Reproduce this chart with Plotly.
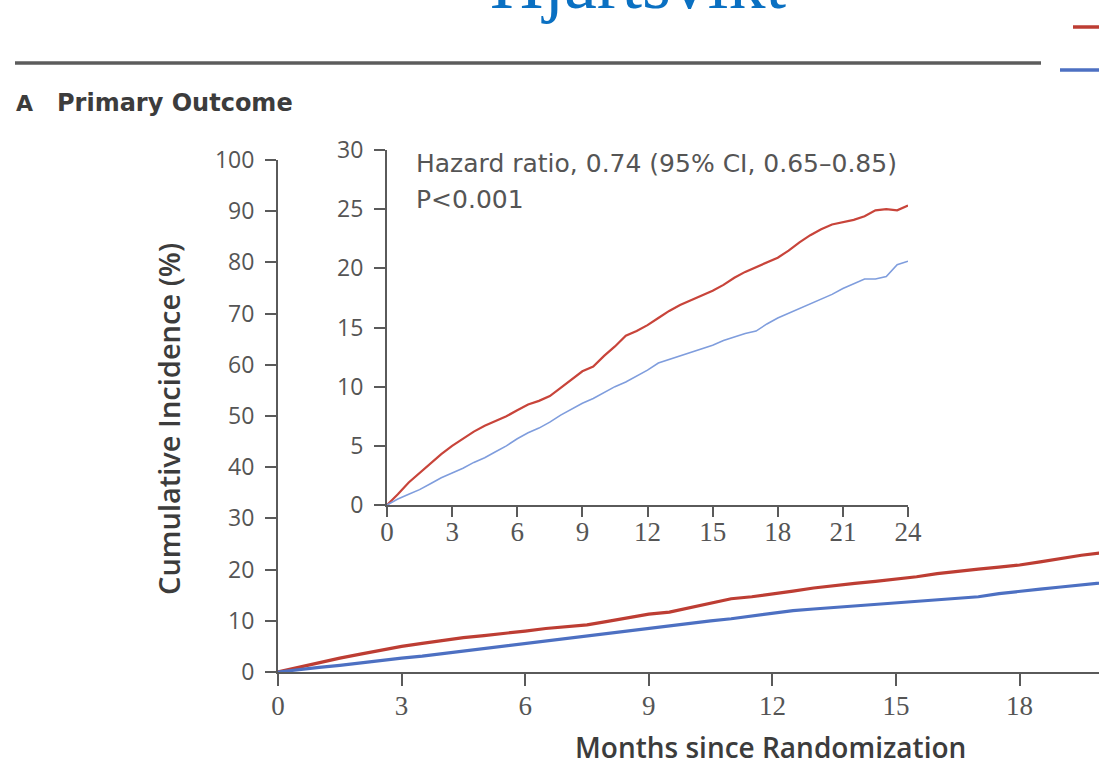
import plotly.graph_objects as go

W, H = 1099, 767

months = [0, 0.5, 1, 1.5, 2, 2.5, 3, 3.5, 4, 4.5, 5, 5.5, 6, 6.5, 7, 7.5, 8, 8.5, 9, 9.5,
          10, 10.5, 11, 11.5, 12, 12.5, 13, 13.5, 14, 14.5, 15, 15.5, 16, 16.5, 17, 17.5,
          18, 18.5, 19, 19.5, 20, 20.5, 21, 21.5, 22, 22.5, 23, 23.5, 24]
red_values = [0, 0.9, 1.9, 2.7, 3.5, 4.3, 5.0, 5.6, 6.2, 6.7, 7.1, 7.5, 8.0, 8.5, 8.8, 9.2,
              9.9, 10.6, 11.3, 11.7, 12.6, 13.4, 14.3, 14.7, 15.2, 15.8, 16.4, 16.9, 17.3,
              17.7, 18.1, 18.6, 19.2, 19.7, 20.1, 20.5, 20.9, 21.5, 22.2, 22.8, 23.3, 23.7,
              23.9, 24.1, 24.4, 24.9, 25.0, 24.9, 25.3]
blue_values = [0, 0.5, 0.9, 1.3, 1.8, 2.3, 2.7, 3.1, 3.6, 4.0, 4.5, 5.0, 5.6, 6.1, 6.5, 7.0,
               7.6, 8.1, 8.6, 9.0, 9.5, 10.0, 10.4, 10.9, 11.4, 12.0, 12.3, 12.6, 12.9, 13.2,
               13.5, 13.9, 14.2, 14.5, 14.7, 15.3, 15.8, 16.2, 16.6, 17.0, 17.4, 17.8, 18.3,
               18.7, 19.1, 19.1, 19.3, 20.3, 20.6]

main_y_ticks = [0, 10, 20, 30, 40, 50, 60, 70, 80, 90, 100]
main_x_ticks = [0, 3, 6, 9, 12, 15, 18, 21, 24]
inset_y_ticks = [0, 5, 10, 15, 20, 25, 30]
inset_x_ticks = [0, 3, 6, 9, 12, 15, 18, 21, 24]

title_text = "Hjärtsvikt"
panel_label = "A"
panel_title = "Primary Outcome"
y_title = "Cumulative Incidence (%)"
x_title = "Months since Randomization"
hr_text = "Hazard ratio, 0.74 (95% CI, 0.65–0.85)"
p_text = "P<0.001"

RED = "#bd3d33"
BLUE = "#4d70c2"
RED_IN = "#c8443a"
BLUE_IN = "#7f9ddd"
AXC = "#5a5a5a"
TXT = "#3c3c3c"
TICKC = "#555555"


def px(x):
    return x / W


def py(y):
    return 1 - y / H


fig = go.Figure()
fig.add_trace(go.Scatter(x=months, y=red_values, mode="lines", line=dict(color=RED, width=3.2),
                         xaxis="x", yaxis="y", showlegend=False))
fig.add_trace(go.Scatter(x=months, y=blue_values, mode="lines", line=dict(color=BLUE, width=3.2),
                         xaxis="x", yaxis="y", showlegend=False))
fig.add_trace(go.Scatter(x=months, y=red_values, mode="lines", line=dict(color=RED_IN, width=2.2),
                         xaxis="x2", yaxis="y2", showlegend=False))
fig.add_trace(go.Scatter(x=months, y=blue_values, mode="lines", line=dict(color=BLUE_IN, width=1.6),
                         xaxis="x2", yaxis="y2", showlegend=False))

sans_tick = dict(family="Open Sans", size=23, color=TICKC)
serif_tick = dict(family="Liberation Serif", size=27, color=TICKC)

common = dict(showline=True, linecolor=AXC, linewidth=2, ticks="outside", tickcolor=AXC,
              tickwidth=2, showgrid=False, zeroline=False, fixedrange=True, automargin=False)

main_x_end = (W - 278) / 41.2

fig.update_layout(
    width=W, height=H,
    margin=dict(l=0, r=0, t=0, b=0, pad=0, autoexpand=False),
    paper_bgcolor="white", plot_bgcolor="rgba(0,0,0,0)",
    xaxis=dict(domain=[px(278), 1.0], range=[0, main_x_end], tickvals=main_x_ticks,
               tickfont=serif_tick, anchor="y", ticklen=12, ticklabelstandoff=-3, **common),
    yaxis=dict(domain=[py(672), py(160)], range=[0, 100], tickvals=main_y_ticks,
               tickfont=sans_tick, anchor="x", ticklen=11, ticklabelstandoff=6, **common),
    xaxis2=dict(domain=[px(387), px(908)], range=[0, 24], tickvals=inset_x_ticks,
                tickfont=serif_tick, anchor="y2", ticklen=10, ticklabelstandoff=-8, **common),
    yaxis2=dict(domain=[py(505), py(150)], range=[0, 30], tickvals=inset_y_ticks,
                tickfont=sans_tick, anchor="x2", ticklen=11, ticklabelstandoff=6, **common),
)

annotations = [
    dict(text=title_text, x=px(638), y=py(26), xref="paper", yref="paper",
         xanchor="center", yanchor="bottom", showarrow=False,
         font=dict(family="Liberation Serif", size=74, color="#0a70c2")),
    dict(text=panel_label, x=px(14), y=py(103), xref="paper", yref="paper",
         xanchor="left", yanchor="middle", showarrow=False,
         font=dict(family="DejaVu Sans", size=22, color=TXT, weight=700)),
    dict(text=panel_title, x=px(55), y=py(103), xref="paper", yref="paper",
         xanchor="left", yanchor="middle", showarrow=False,
         font=dict(family="DejaVu Sans", size=24, color=TXT, weight=700)),
    dict(text=hr_text, x=px(414), y=py(163), xref="paper", yref="paper",
         xanchor="left", yanchor="middle", showarrow=False,
         font=dict(family="DejaVu Sans", size=25, color=TICKC)),
    dict(text=p_text, x=px(414), y=py(200), xref="paper", yref="paper",
         xanchor="left", yanchor="middle", showarrow=False,
         font=dict(family="DejaVu Sans", size=25, color=TICKC)),
    dict(text=y_title, x=px(168), y=py(419), xref="paper", yref="paper",
         xanchor="center", yanchor="middle", showarrow=False, textangle=-90,
         font=dict(family="Open Sans", size=29, color=TXT, weight=600)),
    dict(text=x_title, x=px(770), y=py(747), xref="paper", yref="paper",
         xanchor="center", yanchor="middle", showarrow=False,
         font=dict(family="Open Sans", size=28, color=TXT, weight=600)),
]
fig.update_layout(annotations=annotations)

shapes = [
    dict(type="line", xref="paper", yref="paper", x0=px(15), x1=px(1041), y0=py(63), y1=py(63),
         line=dict(color="#5c5c5c", width=3.5)),
    dict(type="line", xref="paper", yref="paper", x0=px(1073), x1=px(1100), y0=py(27), y1=py(27),
         line=dict(color=RED, width=3.5)),
    dict(type="line", xref="paper", yref="paper", x0=px(1060), x1=px(1100), y0=py(70), y1=py(70),
         line=dict(color=BLUE, width=3.5)),
]
fig.update_layout(shapes=shapes)

fig.write_html(
    "out.html",
    config={"displayModeBar": False},
    post_script="document.body.style.margin='0';document.body.style.overflow='hidden';"
                "document.documentElement.style.overflow='hidden';",
)
